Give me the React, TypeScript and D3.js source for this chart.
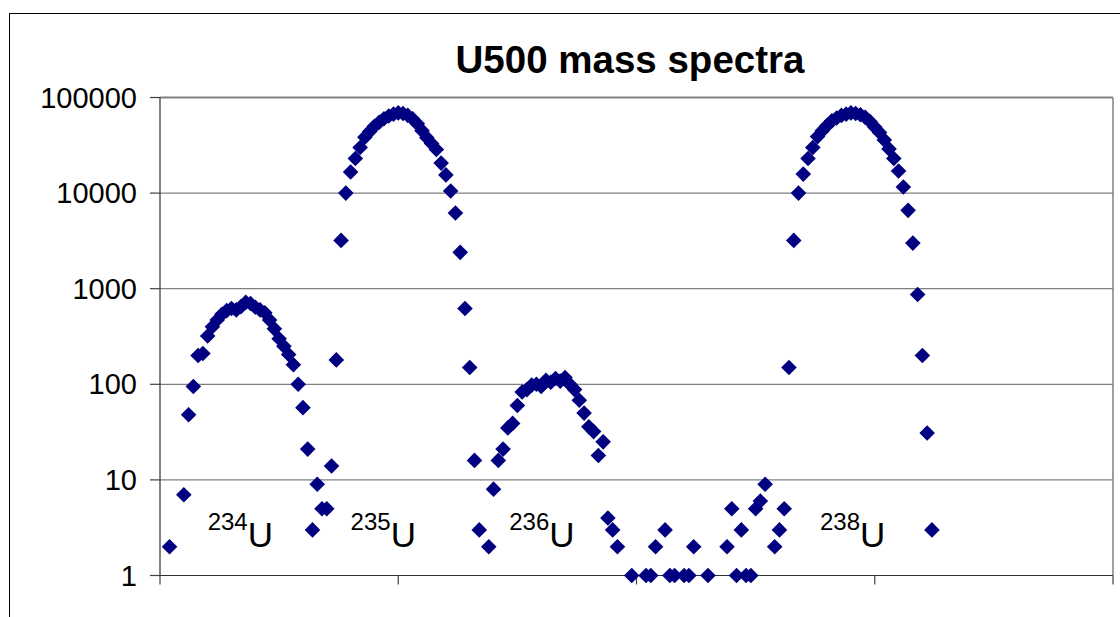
import React, {Component} from 'react';
import * as d3 from 'd3';

// channel number of the first entry in counts (channels with 0 counts are not drawn on the log axis)
const firstChannel = 2;

const counts = [
  2, 0, 0, 7, 48, 95, 200, 210,                       // 2 - 9
  320, 400, 470, 540, 590, 620, 600, 650, 720, 700,   // 10 - 19
  640, 600, 560, 470, 380, 300, 250, 205, 160, 100,   // 20 - 29
  57, 21, 3, 9, 5, 5, 14, 180, 3200, 10000,           // 30 - 39
  16600, 23000, 30000, 38500, 44000, 50000, 55000, 60000, 64000, 67000, // 40 - 49
  69000, 68000, 65000, 60000, 53000, 45000, 38000, 33000, 28600, 20600, // 50 - 59
  15500, 10500, 6200, 2400, 620, 150, 16, 3, 0, 2,    // 60 - 69
  8, 16, 21, 35, 39, 60, 83, 88, 98, 100,             // 70 - 79
  95, 110, 105, 115, 108, 118, 100, 88, 68, 50,       // 80 - 89
  36, 32, 18, 25, 4, 3, 2, 0, 0, 1,                   // 90 - 99
  0, 0, 1, 1, 2, 0, 3, 1, 1, 0,                       // 100 - 109
  1, 1, 2, 0, 0, 1, 0, 0, 0, 2,                       // 110 - 119
  5, 1, 3, 1, 1, 5, 6, 9, 0, 2,                       // 120 - 129
  3, 5, 150, 3200, 10000, 15800, 23000, 30000, 39000, 45000, // 130 - 139
  51000, 57000, 61000, 65000, 67000, 69000, 68000, 66000, 62000, 56000, // 140 - 149
  49000, 43000, 36000, 29000, 23000, 17000, 11600, 6600, 3000, 870,     // 150 - 159
  200, 31, 3                                          // 160 - 162
];

const yTicks = [1, 10, 100, 1000, 10000, 100000];
const xTicks = [0, 50, 100, 150, 200];
const isotopes = ["234", "235", "236", "238"];

class App extends Component {
  svgRef = React.createRef<SVGSVGElement>();

  componentDidMount() {
    this.renderChart();
  }

  renderChart = () => {
    var width = 1120;
    var height = 617;
    var plot = {left: 160, right: 1113, top: 97.5, bottom: 575.5};

    var svg = d3.select(this.svgRef.current).attr("width", width).attr("height", height);

    var xScale = d3.scaleLinear().domain([0, 200]).range([plot.left, plot.right]);
    var yScale = d3.scaleLog().domain([1, 100000]).range([plot.bottom, plot.top]);

    // chart area border (runs off the picture right and bottom)
    svg.selectAll(".border").data([0]).join("rect").attr("class", "border")
      .attr("x", 9.5).attr("y", 13.5).attr("width", 1200).attr("height", 700)
      .attr("fill", "white").attr("stroke", "black").attr("stroke-width", 1);

    //gridlines
    svg.selectAll(".grid").data(yTicks).join("line").attr("class", "grid")
      .attr("x1", plot.left).attr("x2", plot.right)
      .attr("y1", d => yScale(d)).attr("y2", d => yScale(d))
      .attr("stroke", "#808080").attr("stroke-width", d => d === 100000 ? 2 : 1.2);

    // right edge of plot area
    svg.selectAll(".plot_edge").data([0]).join("line").attr("class", "plot_edge")
      .attr("x1", plot.right).attr("x2", plot.right).attr("y1", plot.top).attr("y2", plot.bottom)
      .attr("stroke", "#808080").attr("stroke-width", 1.5);

    //axes
    svg.selectAll(".y_axis").data([0]).join("line").attr("class", "y_axis")
      .attr("x1", plot.left).attr("x2", plot.left).attr("y1", plot.top).attr("y2", plot.bottom)
      .attr("stroke", "#303030").attr("stroke-width", 1.2);
    svg.selectAll(".x_axis").data([0]).join("line").attr("class", "x_axis")
      .attr("x1", plot.left).attr("x2", plot.right).attr("y1", plot.bottom).attr("y2", plot.bottom)
      .attr("stroke", "#303030").attr("stroke-width", 1.2);

    svg.selectAll(".y_tick").data(yTicks).join("line").attr("class", "y_tick")
      .attr("x1", plot.left - 10).attr("x2", plot.left)
      .attr("y1", d => yScale(d)).attr("y2", d => yScale(d))
      .attr("stroke", "#404040").attr("stroke-width", 1.2);
    svg.selectAll(".x_tick").data(xTicks).join("line").attr("class", "x_tick")
      .attr("x1", d => xScale(d)).attr("x2", d => xScale(d))
      .attr("y1", plot.bottom).attr("y2", plot.bottom + 9)
      .attr("stroke", "#404040").attr("stroke-width", 1.2);

    svg.selectAll(".y_label").data(yTicks).join("text").attr("class", "y_label")
      .attr("x", 137).attr("y", d => yScale(d) + 10)
      .attr("text-anchor", "end").attr("font-family", "'Liberation Sans', Arial, sans-serif")
      .attr("font-size", 29).attr("fill", "black").text(d => String(d));

    //title
    svg.selectAll(".title").data([0]).join("text").attr("class", "title")
      .attr("x", 630).attr("y", 73).attr("text-anchor", "middle")
      .attr("font-family", "'Liberation Sans', Arial, sans-serif").attr("font-weight", "bold")
      .attr("font-size", 38.5).text("U500 mass spectra");

    //isotope labels
    var labelChannels = [10, 40, 73.3, 138.5];
    var labels = svg.selectAll(".iso").data(isotopes).join("text").attr("class", "iso")
      .attr("x", (d, i) => xScale(labelChannels[i])).attr("y", yScale(2))
      .attr("font-family", "'Liberation Sans', Arial, sans-serif").attr("fill", "black");
    labels.selectAll("tspan").remove();
    labels.append("tspan").attr("font-size", 24).attr("dy", -17).text(d => d);
    labels.append("tspan").attr("font-size", 35).attr("dy", 17).text("U");

    //points
    var points = counts.map((c, i) => ({channel: firstChannel + i, count: c})).filter(d => d.count > 0);
    var r = 7.8;
    svg.selectAll(".pt").data(points).join("path").attr("class", "pt")
      .attr("d", `M0,${-r}L${r},0L0,${r}L${-r},0Z`)
      .attr("transform", d => `translate(${xScale(d.channel)}, ${yScale(d.count)})`)
      .attr("fill", "#000080");
  }

  render() {
    return (
      <div style={{position: "absolute", left: 0, top: 0}}>
        <svg ref={this.svgRef} style={{display: "block"}}></svg>
      </div>
    );
  }
}

export default App;
